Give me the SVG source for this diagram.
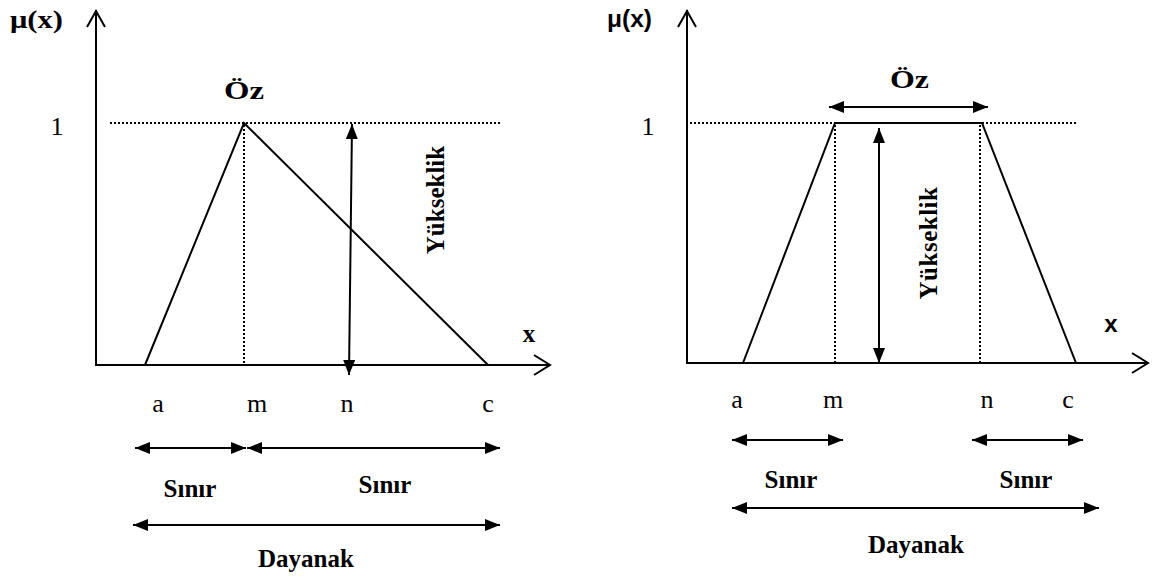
<svg xmlns="http://www.w3.org/2000/svg" width="1162" height="581" viewBox="0 0 1162 581">
<style>
.ax{stroke:#000;stroke-width:2;fill:none}
.sh{stroke:#000;stroke-width:2;fill:none}
.dot{stroke:#000;stroke-width:2;stroke-dasharray:2 2;fill:none}
.arr{stroke:#000;stroke-width:2;fill:none;marker-start:url(#ah);marker-end:url(#ah)}
.lb{font-family:"Liberation Serif",serif;font-size:26px;fill:#000}
.bd{font-family:"Liberation Serif",serif;font-size:25px;font-weight:bold;fill:#000}
.sb{font-family:"Liberation Sans",sans-serif;font-size:24px;font-weight:bold;fill:#000}
</style>
<defs>
<marker id="ah" markerUnits="userSpaceOnUse" markerWidth="16" markerHeight="14" refX="15" refY="6" orient="auto-start-reverse">
<path d="M0,0 L15,6 L0,12 z" fill="#000"/>
</marker>
</defs>
<rect width="1162" height="581" fill="#fff"/>

<g id="left-chart">
<g id="left-axes">
<line class="ax" x1="96" y1="10" x2="96" y2="365"/>
<polyline class="ax" points="87,27 96,11 105,27"/>
<line class="ax" x1="95" y1="365" x2="550" y2="365"/>
<polyline class="ax" points="534,355 550,365 534,375"/>
<text class="bd" x="10" y="28" font-size="27" textLength="53" lengthAdjust="spacingAndGlyphs">μ(x)</text>
<text class="bd" x="529" y="342" font-size="29" text-anchor="middle">x</text>
<text class="lb" x="57" y="135" font-size="28" text-anchor="middle">1</text>
</g>
<g id="left-shape">
<line class="dot" x1="110" y1="123" x2="500" y2="123"/>
<line class="dot" x1="244" y1="125" x2="244" y2="365"/>
<polyline class="sh" points="145,365 244,123 488,365"/>
<text class="bd" x="224" y="99" font-size="27" textLength="40" lengthAdjust="spacingAndGlyphs">Öz</text>
</g>
<g id="left-height">
<line class="arr" x1="352" y1="124" x2="349" y2="375"/>
<text class="bd" transform="translate(444,200) rotate(-90)" font-size="27" text-anchor="middle">Yükseklik</text>
</g>
<g id="left-labels">
<text class="lb" x="158" y="412" text-anchor="middle">a</text>
<text class="lb" x="257" y="412" text-anchor="middle">m</text>
<text class="lb" x="347" y="412" text-anchor="middle">n</text>
<text class="lb" x="488" y="412" text-anchor="middle">c</text>
</g>
<g id="left-ranges">
<line class="arr" x1="135" y1="448" x2="246" y2="448"/>
<line class="arr" x1="247" y1="448" x2="500" y2="448"/>
<text class="bd" x="190" y="497" text-anchor="middle">Sınır</text>
<text class="bd" x="385" y="493" text-anchor="middle">Sınır</text>
<line class="arr" x1="133" y1="525" x2="500" y2="525"/>
<text class="bd" x="306" y="567" text-anchor="middle">Dayanak</text>
</g>
</g>

<g id="right-chart">
<g id="right-axes">
<line class="ax" x1="687" y1="10" x2="687" y2="363"/>
<polyline class="ax" points="678,27 687,11 696,27"/>
<line class="ax" x1="686" y1="363" x2="1148" y2="363"/>
<polyline class="ax" points="1132,353 1148,363 1132,373"/>
<text class="sb" x="607" y="27" textLength="45" lengthAdjust="spacingAndGlyphs">μ(x)</text>
<text class="sb" x="1111" y="332" font-size="22" text-anchor="middle">x</text>
<text class="lb" x="648" y="135" font-size="28" text-anchor="middle">1</text>
</g>
<g id="right-shape">
<line class="dot" x1="690" y1="123" x2="1077" y2="123"/>
<line class="dot" x1="835" y1="125" x2="835" y2="363"/>
<line class="dot" x1="980" y1="125" x2="980" y2="363"/>
<polyline class="sh" points="743,363 835,123 982,123 1076,363"/>
<line class="arr" x1="829" y1="107" x2="988" y2="107"/>
<text class="bd" x="890" y="88" font-size="27" textLength="39" lengthAdjust="spacingAndGlyphs">Öz</text>
</g>
<g id="right-height">
<line class="arr" x1="879" y1="128" x2="879" y2="363"/>
<text class="bd" transform="translate(937,243) rotate(-90)" font-size="26" text-anchor="middle" letter-spacing="0.5">Yükseklik</text>
</g>
<g id="right-labels">
<text class="lb" x="737" y="408" text-anchor="middle">a</text>
<text class="lb" x="833" y="408" text-anchor="middle">m</text>
<text class="lb" x="987" y="408" text-anchor="middle">n</text>
<text class="lb" x="1068" y="408" text-anchor="middle">c</text>
</g>
<g id="right-ranges">
<line class="arr" x1="732" y1="440" x2="843" y2="440"/>
<line class="arr" x1="972" y1="440" x2="1083" y2="440"/>
<text class="bd" x="791" y="488" text-anchor="middle">Sınır</text>
<text class="bd" x="1026" y="488" text-anchor="middle">Sınır</text>
<line class="arr" x1="732" y1="508" x2="1099" y2="508"/>
<text class="bd" x="916" y="553" text-anchor="middle">Dayanak</text>
</g>
</g>
</svg>
